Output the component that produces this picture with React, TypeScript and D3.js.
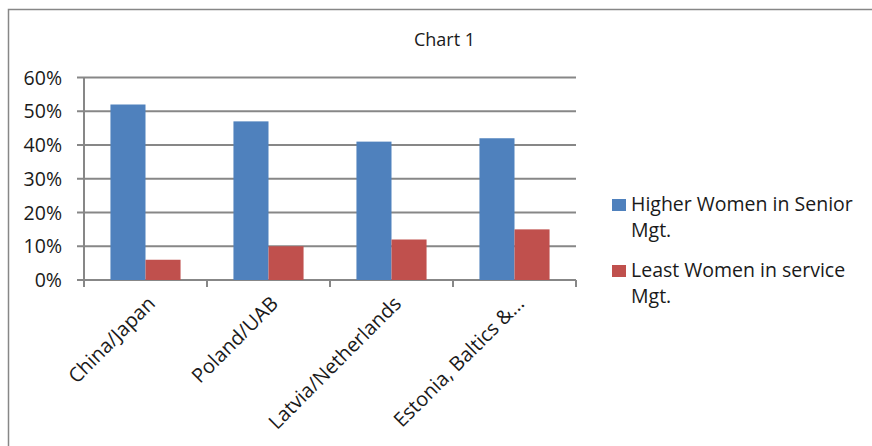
import React from "react";
import * as d3 from "d3";

const categories = ["China/Japan", "Poland/UAB", "Latvia/Netherlands", "Estonia, Baltics &..."];
const seriesNames = ["Higher Women in Senior Mgt.", "Least Women in service Mgt."];
const seniorValues = [0.52, 0.47, 0.41, 0.42];
const serviceValues = [0.06, 0.1, 0.12, 0.15];
const yTicks = [0, 0.1, 0.2, 0.3, 0.4, 0.5, 0.6];
const legendLines = [["Higher Women in Senior", "Mgt."], ["Least Women in service", "Mgt."]];
const colors = ["#4F81BD", "#C0504D"];

const FONT = "'Open Sans', Lato, sans-serif";

export default function App() {
  const W = 872, H = 446;
  const left = 84, right = 576, top = 77.5, bottom = 280;
  const x = d3.scaleBand<string>().domain(categories).range([left, right]).paddingInner(0.43).paddingOuter(0.215);
  const y = d3.scaleLinear().domain([0, 0.6]).range([bottom, top]);
  const inner = d3.scaleBand<number>().domain([0, 1]).range([0, x.bandwidth()]);
  const step = (right - left) / categories.length;
  const series = [seniorValues, serviceValues];
  const grid = "#878787";

  return (
    <svg width={W} height={H} style={{ position: "absolute", left: 0, top: 0 }}>
      <rect x={0} y={0} width={W} height={H} fill="#fff" />
      <rect x={8.5} y={9.5} width={W + 20} height={H + 20} fill="none" stroke="#878787" strokeWidth={1.5} />
      <text x={444.5} y={45.5} textAnchor="middle" fontFamily={FONT} fontSize={18} fill="#1a1a1a">Chart 1</text>
      {yTicks.map((t) => (
        <g key={t}>
          <line x1={77} x2={right} y1={y(t)} y2={y(t)} stroke={grid} strokeWidth={2} />
          <text x={62} y={y(t) + 7} textAnchor="end" fontFamily={FONT} fontSize={19.5} fill="#1a1a1a">
            {d3.format(".0%")(t)}
          </text>
        </g>
      ))}
      <line x1={left} x2={left} y1={top} y2={bottom} stroke={grid} strokeWidth={2} />
      {d3.range(categories.length + 1).map((i) => (
        <line key={i} x1={left + i * step} x2={left + i * step} y1={bottom} y2={bottom + 7} stroke={grid} strokeWidth={2} />
      ))}
      {categories.map((c, i) =>
        series.map((s, k) => (
          <rect key={c + k} x={(x(c) as number) + (inner(k) as number)} y={y(s[i])} width={inner.bandwidth()} height={bottom - y(s[i])} fill={colors[k]} />
        ))
      )}
      {categories.map((c, i) => {
        const cx = left + (i + 0.5) * step;
        return (
          <text key={c} transform={`translate(${cx + 1},${bottom + 15}) rotate(-45)`} textAnchor="end" dy="0.7em" fontFamily={FONT} fontSize={20} fill="#1a1a1a">
            {c}
          </text>
        );
      })}
      {legendLines.map((lines, k) => (
        <g key={k} transform={`translate(612,${199 + k * 66})`}>
          <rect x={0} y={0} width={14} height={12} fill={colors[k]} />
          <text x={19} y={12} fontFamily={FONT} fontSize={19.5} fill="#1a1a1a">
            <tspan x={19}>{lines[0]}</tspan>
            <tspan x={19} dy={25.5}>{lines[1]}</tspan>
          </text>
        </g>
      ))}
    </svg>
  );
}
